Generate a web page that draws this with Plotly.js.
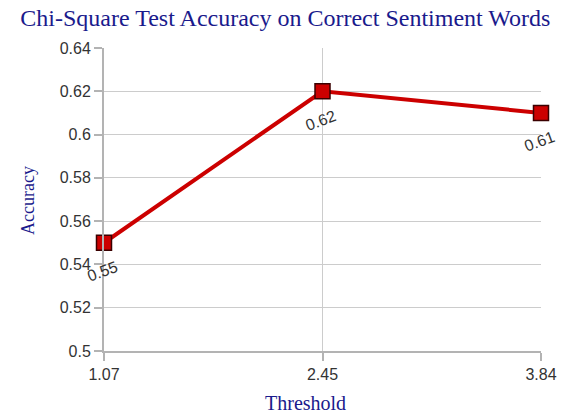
<!DOCTYPE html>
<html>
<head>
<meta charset="utf-8">
<script src="https://cdn.plot.ly/plotly-3.0.1.min.js"></script>
<style>html,body{margin:0;padding:0;background:#fff;}#chart{width:564px;height:413px;}</style>
</head>
<body>
<div id="chart"></div>
<script>
const thresholds = ["1.07", "2.45", "3.84"];
const accuracy = [0.55, 0.62, 0.61];
const yTicks = [0.5, 0.52, 0.54, 0.56, 0.58, 0.6, 0.62, 0.64];
const yTickText = ["0.5", "0.52", "0.54", "0.56", "0.58", "0.6", "0.62", "0.64"];

const serif = "Liberation Serif, Times New Roman, serif";
const sans = "Liberation Sans, Arial, sans-serif";
const titleColor = "#1a1a8c";

const trace = {
  x: thresholds,
  y: accuracy,
  type: "scatter",
  mode: "lines+markers",
  cliponaxis: false,
  line: {color: "#cc0000", width: 4},
  marker: {symbol: "square", size: 15, color: "#cc0000", line: {color: "#3a0000", width: 1.5}},
  hoverinfo: "skip"
};

const L = 104, R = 23, T = 48, B = 62, W = 564, H = 413;
const pw = W - L - R, ph = H - T - B;

const annotations = thresholds.map((t, i) => ({
  x: i, y: accuracy[i], xref: "x", yref: "y",
  text: String(accuracy[i]), showarrow: false,
  textangle: -20, yshift: -29, xshift: -2,
  font: {family: sans, size: 16, color: "#333333"}
}));
annotations.push({
  x: 0.462, y: (H - B - 403) / ph, xref: "paper", yref: "paper",
  xanchor: "center", yanchor: "middle",
  text: "Threshold", showarrow: false,
  font: {family: serif, size: 20, color: titleColor}
});
annotations.push({
  x: (28 - L) / pw, y: (H - B - 201) / ph, xref: "paper", yref: "paper",
  xanchor: "center", yanchor: "middle",
  text: "Accuracy", showarrow: false, textangle: -90,
  font: {family: serif, size: 18, color: titleColor}
});

const layout = {
  width: W, height: H,
  paper_bgcolor: "#ffffff", plot_bgcolor: "#ffffff",
  margin: {l: L, r: R, t: T, b: B},
  showlegend: false,
  title: {
    text: "Chi-Square Test Accuracy on Correct Sentiment Words",
    font: {family: serif, size: 24, color: titleColor},
    x: 0.506, xanchor: "center", y: 0.978, yanchor: "top"
  },
  xaxis: {
    type: "category",
    range: [0, 2],
    showgrid: true, gridcolor: "#cccccc", gridwidth: 1,
    showline: true, linecolor: "#b3b3b3", linewidth: 2,
    ticks: "outside", ticklen: 8, tickcolor: "#b3b3b3", tickwidth: 2,
    tickfont: {family: sans, size: 16, color: "#333333"},
    zeroline: false
  },
  yaxis: {
    range: [0.5, 0.64],
    tickvals: yTicks, ticktext: yTickText,
    showgrid: true, gridcolor: "#cccccc", gridwidth: 1,
    showline: true, linecolor: "#b3b3b3", linewidth: 2,
    ticks: "outside", ticklen: 8, tickcolor: "#b3b3b3", tickwidth: 2,
    tickfont: {family: sans, size: 16, color: "#333333"},
    zeroline: false
  },
  annotations: annotations
};

Plotly.newPlot("chart", [trace], layout, {displayModeBar: false, staticPlot: true});
</script>
</body>
</html>
